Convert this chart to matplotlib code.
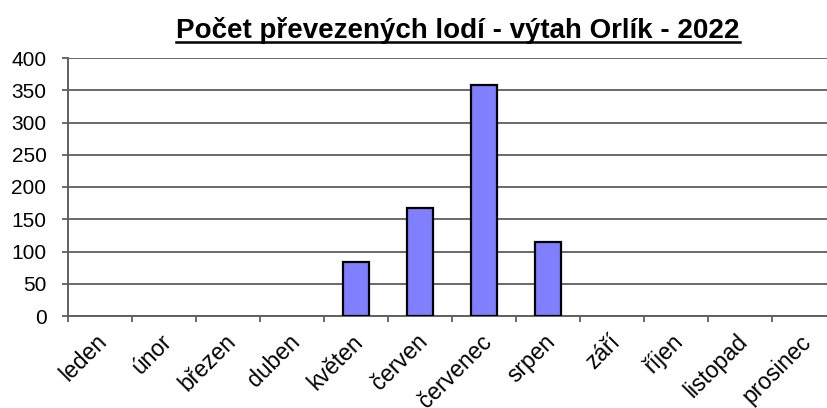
import numpy as np
import matplotlib
matplotlib.use("Agg")
import matplotlib.pyplot as plt
from matplotlib.lines import Line2D
from matplotlib.transforms import ScaledTranslation

months = ['leden', 'únor', 'březen', 'duben', 'květen', 'červen',
          'červenec', 'srpen', 'září', 'říjen', 'listopad', 'prosinec']
boats = [0, 0, 0, 0, 84, 167, 358, 115, 0, 0, 0, 0]
yticks = [0, 50, 100, 150, 200, 250, 300, 350, 400]
title = 'Počet převezených lodí - výtah Orlík - 2022'

plt.rcParams['font.family'] = ['Liberation Sans', 'DejaVu Sans']

fig = plt.figure(figsize=(8.28, 4.08), dpi=100)
W, H = 828, 408
# axes box in pixels: x 68..836 (runs past the right edge), y 58..316
ax = fig.add_axes([68 / W, (H - 316) / H, 768 / W, 258 / H])

x = np.arange(len(months)) + 0.5
vals = np.array(boats)
nz = vals > 0  # empty months draw no bar at all
ax.bar(x[nz], vals[nz], width=0.4, color='#8080FF', edgecolor='black',
       linewidth=1.6, zorder=3)

ax.set_xlim(0, len(months))
ax.set_ylim(0, 400)
ax.set_yticks(yticks)
ax.set_yticklabels([str(v) for v in yticks], fontsize=15)
ax.yaxis.grid(True, color='#505050', linewidth=1.2, zorder=0)

ax.set_xticks(np.arange(len(months) + 1))
ax.set_xticklabels([])
ax.set_xticks(x, minor=True)
ax.set_xticklabels(months, minor=True, fontsize=16.5, rotation=45,
                   ha='right', va='center', rotation_mode='anchor')
ax.tick_params(axis='x', which='minor', length=0, pad=16)
ax.tick_params(axis='x', which='major', length=4.5, width=1.2, color='#505050')
ax.tick_params(axis='y', length=4.5, width=1.2, color='#505050', pad=11)
shift = ScaledTranslation(0.04, 0, fig.dpi_scale_trans)
for lab in ax.get_xticklabels(minor=True):
    lab.set_transform(lab.get_transform() + shift)

for s in ['top', 'right']:
    ax.spines[s].set_visible(False)
for s in ['left', 'bottom']:
    ax.spines[s].set_color('#606060')
    ax.spines[s].set_linewidth(1.4)

t = fig.text(458 / W, (H - 30) / H, title, fontsize=20, fontweight='bold',
             ha='center', va='center')
fig.canvas.draw()
bb = t.get_window_extent().transformed(fig.transFigure.inverted())
fig.add_artist(Line2D([bb.x0, bb.x1], [bb.y0 + 0.004, bb.y0 + 0.004],
                      transform=fig.transFigure, color='black', linewidth=1.8))

fig.savefig('out.png', dpi=100)
